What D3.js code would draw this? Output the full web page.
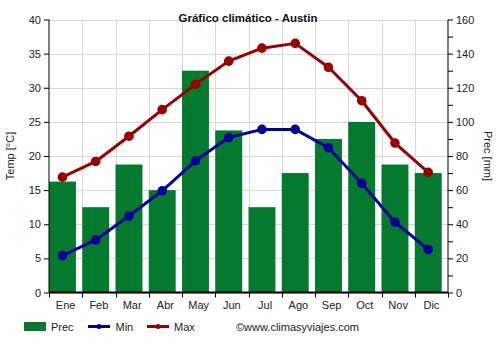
<!DOCTYPE html>
<html>
<head>
<meta charset="utf-8">
<script src="https://cdn.jsdelivr.net/npm/d3@7"></script>
<style>
  html, body { margin: 0; padding: 0; background: #fff; }
  svg { display: block; font-family: "Liberation Sans", Arial, sans-serif; }
</style>
</head>
<body>
<svg id="chart" width="500" height="350"></svg>
<script>
// Monthly climate of Austin
const months = ["Ene", "Feb", "Mar", "Abr", "May", "Jun", "Jul", "Ago", "Sep", "Oct", "Nov", "Dic"];
const precMm = [65, 50, 75, 60, 130, 95, 50, 70, 90, 100, 75, 70];
const tempMin = [5.4, 7.7, 11.2, 14.9, 19.3, 22.7, 23.9, 23.9, 21.2, 16.0, 10.3, 6.3];
const tempMax = [16.9, 19.2, 22.9, 26.8, 30.5, 33.9, 35.8, 36.5, 33.0, 28.1, 21.9, 17.6];
const tempTicks = [0, 5, 10, 15, 20, 25, 30, 35, 40];
const precTicks = [0, 20, 40, 60, 80, 100, 120, 140, 160];

const svg = d3.select("#chart");
const m = { left: 49, right: 448, top: 19.5, bottom: 292.5 };

const x = d3.scaleBand().domain(months).range([m.left, m.right]).paddingInner(0).paddingOuter(0);
const yT = d3.scaleLinear().domain([0, 40]).range([m.bottom, m.top]);
const yP = d3.scaleLinear().domain([0, 160]).range([m.bottom, m.top]);

const barW = x.bandwidth() * 0.81;
const cx = d => x(d) + barW / 2;

// grid
const grid = svg.append("g").attr("stroke", "#d9d9d9").attr("stroke-width", 1);
tempTicks.forEach(t => {
  grid.append("line").attr("x1", m.left).attr("x2", m.right)
    .attr("y1", Math.round(yT(t)) + 0.5).attr("y2", Math.round(yT(t)) + 0.5);
});
months.forEach((mo, i) => {
  if (i === 0) return;
  const xx = Math.round(x(mo)) + 0.5;
  grid.append("line").attr("x1", xx).attr("x2", xx).attr("y1", m.top).attr("y2", m.bottom);
});

// precipitation bars
svg.append("g").selectAll("rect").data(months).join("rect")
  .attr("x", d => x(d))
  .attr("width", barW)
  .attr("y", (d, i) => yP(precMm[i]))
  .attr("height", (d, i) => m.bottom - yP(precMm[i]))
  .attr("fill", "#057a2e");

// temperature lines
function series(values, color) {
  const pts = months.map((mo, i) => [cx(mo), yT(values[i])]);
  svg.append("path").attr("d", d3.line()(pts))
    .attr("fill", "none").attr("stroke", color).attr("stroke-width", 3).attr("stroke-linejoin", "round");
  svg.append("g").selectAll("circle").data(pts).join("circle")
    .attr("cx", p => p[0]).attr("cy", p => p[1]).attr("r", 4.8).attr("fill", color);
}
series(tempMax, "#990000");
series(tempMin, "#000099");

// axes
const axL = svg.append("g").attr("transform", `translate(${m.left},0)`)
  .call(d3.axisLeft(yT).tickValues(tempTicks).tickSize(5).tickPadding(3));
const axR = svg.append("g").attr("transform", `translate(${m.right},0)`)
  .call(d3.axisRight(yP).tickValues(d3.range(0, 161, 10)).tickSize(5).tickPadding(3)
    .tickFormat(d => precTicks.includes(d) ? d : ""));
const axB = svg.append("g").attr("transform", `translate(0,${m.bottom})`)
  .call(d3.axisBottom(x).tickSize(0).tickPadding(9));

[axL, axR, axB].forEach(a => {
  a.select(".domain").attr("stroke", "#000");
  a.selectAll(".tick line").attr("stroke", "#000");
  a.selectAll("text").attr("fill", "#222").attr("font-size", 11)
    .attr("font-family", "Liberation Sans, Arial, sans-serif");
});
axL.select(".domain").attr("d", `M0,${m.top}V${m.bottom}`);
axR.select(".domain").attr("d", `M0,${m.top}V${m.bottom}`);
axB.select(".domain").attr("d", `M${m.left},0H${m.right}`).attr("stroke-width", 2);

// band boundary ticks on the month axis
months.concat([null]).forEach((mo, i) => {
  const xx = mo === null ? m.right : x(mo);
  svg.append("line").attr("x1", Math.round(xx) + 0.5).attr("x2", Math.round(xx) + 0.5)
    .attr("y1", m.bottom).attr("y2", m.bottom + 5).attr("stroke", "#000");
});

// titles
svg.append("text").attr("x", 248).attr("y", 22).attr("text-anchor", "middle")
  .attr("font-size", 11.5).attr("font-weight", "bold").attr("fill", "#111")
  .text("Gráfico climático - Austin");
svg.append("text").attr("transform", "translate(14,156) rotate(-90)").attr("text-anchor", "middle")
  .attr("font-size", 11).attr("fill", "#222").text("Temp [°C]");
svg.append("text").attr("transform", "translate(484,156) rotate(90)").attr("text-anchor", "middle")
  .attr("font-size", 11).attr("fill", "#222").text("Prec [mm]");

// legend
const lg = svg.append("g").attr("font-size", 11).attr("fill", "#222");
lg.append("rect").attr("x", 24).attr("y", 322).attr("width", 22).attr("height", 9).attr("fill", "#057a2e");
lg.append("text").attr("x", 51).attr("y", 330.5).text("Prec");
lg.append("line").attr("x1", 88).attr("x2", 110).attr("y1", 326.5).attr("y2", 326.5)
  .attr("stroke", "#000099").attr("stroke-width", 3);
lg.append("circle").attr("cx", 99).attr("cy", 326.5).attr("r", 2.5).attr("fill", "#000099");
lg.append("text").attr("x", 115.5).attr("y", 330.5).text("Min");
lg.append("line").attr("x1", 147).attr("x2", 169).attr("y1", 326.5).attr("y2", 326.5)
  .attr("stroke", "#990000").attr("stroke-width", 3);
lg.append("circle").attr("cx", 158).attr("cy", 326.5).attr("r", 2.5).attr("fill", "#990000");
lg.append("text").attr("x", 174).attr("y", 330.5).text("Max");
lg.append("text").attr("x", 236).attr("y", 330.5).text("©www.climasyviajes.com");
</script>
</body>
</html>
